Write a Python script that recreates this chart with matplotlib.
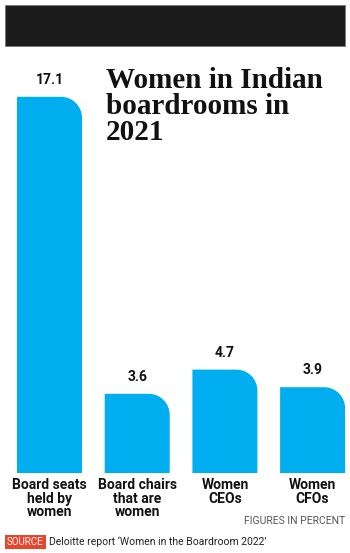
import matplotlib
matplotlib.use("Agg")
import matplotlib.pyplot as plt
from matplotlib.path import Path
from matplotlib.patches import PathPatch, Rectangle

categories = ["Board seats\nheld by\nwomen", "Board chairs\nthat are\nwomen", "Women\nCEOs", "Women\nCFOs"]
values = [17.1, 3.6, 4.7, 3.9]
value_labels = ["17.1", "3.6", "4.7", "3.9"]
title_lines = ["Women in Indian", "boardrooms in", "2021"]
note = "FIGURES IN PERCENT"
source_tag = "SOURCE"
source_text = "Deloitte report \u2018Women in the Boardroom 2022\u2019"

BLUE = "#00AEEF"
W, H = 350, 553
fig = plt.figure(figsize=(W / 100, H / 100), dpi=100)
fig.patch.set_facecolor("white")

# axes placement in pixels
unit_x = 87.7
x_lo, x_hi = -0.45, 3.42
left_px = 49.5 + x_lo * unit_x
bottom_px = 473
y_top = 20.0
px_per_y = 22.0
ax = fig.add_axes([left_px / W, (H - bottom_px) / H,
                   (x_hi - x_lo) * unit_x / W, y_top * px_per_y / H])
ax.set_xlim(x_lo, x_hi)
ax.set_ylim(0, y_top)
ax.axis("off")

xs = list(range(len(values)))
bw = 0.741
bars = ax.bar(xs, values, width=bw, color=BLUE, alpha=0)

r_px = 21
rx = r_px / unit_x
ry = r_px / px_per_y
k = 0.5523
for b in bars:
    x0 = b.get_x()
    x1 = x0 + b.get_width()
    h = b.get_height()
    verts = [(x0, 0), (x0, h), (x1 - rx, h),
             (x1 - rx + k * rx, h), (x1, h - ry + k * ry), (x1, h - ry),
             (x1, 0), (x0, 0)]
    codes = [Path.MOVETO, Path.LINETO, Path.LINETO,
             Path.CURVE4, Path.CURVE4, Path.CURVE4,
             Path.LINETO, Path.CLOSEPOLY]
    ax.add_patch(PathPatch(Path(verts, codes), facecolor=BLUE, edgecolor="none"))

for x, v, lab in zip(xs, values, value_labels):
    ax.annotate(lab, (x, v), xytext=(0, 7), textcoords="offset points",
                ha="center", va="bottom", fontsize=10, fontweight="bold",
                family="Roboto", color="#111111")

for x, c in zip(xs, categories):
    ax.annotate(c, (x, 0), xytext=(0, -3.5), textcoords="offset points",
                ha="center", va="top", fontsize=10, fontweight="bold",
                family="Roboto", color="#111111", linespacing=0.98)

# black banner
fig.patches.append(Rectangle((5 / W, 1 - 46 / H), 340 / W, 41 / H,
                             transform=fig.transFigure, facecolor="#1c1c1c",
                             edgecolor="#777777", linewidth=0.6))

for i, line in enumerate(title_lines):
    fig.text(106 / W, 1 - (88 + 26 * i) / H, line, ha="left", va="baseline",
             fontsize=21, fontweight="bold", family="Liberation Serif",
             color="#111111")

fig.text(345 / W, 1 - 521 / H, note, ha="right", va="center",
         fontsize=7.5, family="Roboto", color="#555555")

fig.text(7 / W, 1 - 542 / H, source_tag, ha="left", va="center",
         fontsize=7, family="Roboto", color="white",
         bbox=dict(boxstyle="square,pad=0.2", facecolor="#E8452C", edgecolor="none"))
fig.text(49 / W, 1 - 542 / H, source_text, ha="left", va="center",
         fontsize=7.5, family="Roboto", color="#222222")

fig.savefig("out.png", dpi=100)
